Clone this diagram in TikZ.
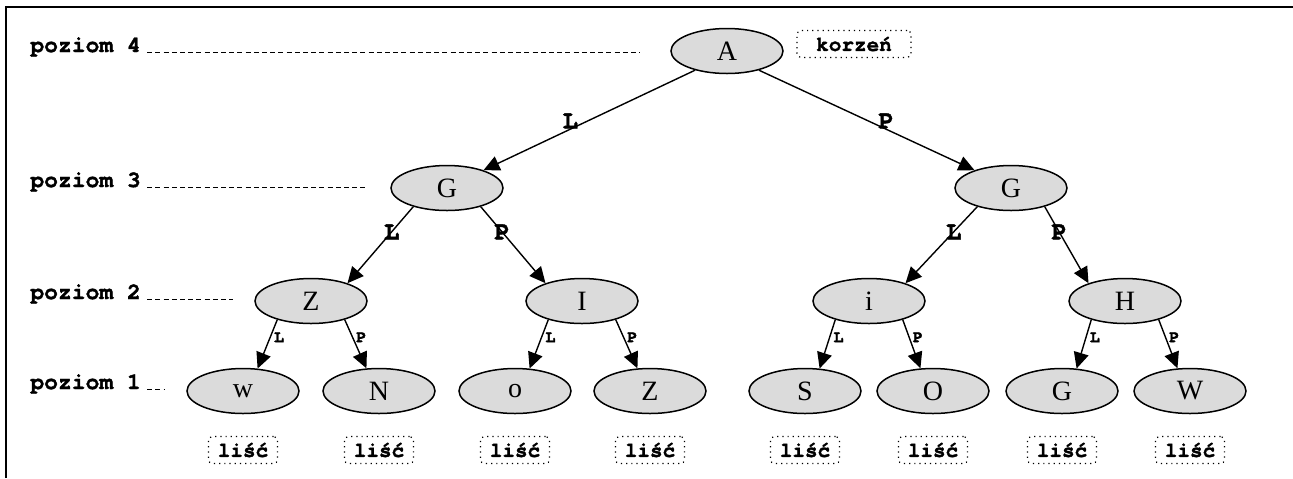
\documentclass[tikz,border=0pt]{standalone}
\usepackage{fontspec}
\setmainfont{Liberation Serif}
\setmonofont[BoldFeatures={FakeBold=1.6}]{TeX Gyre Cursor}
\usepackage{tikz}
\usetikzlibrary{arrows.meta,shapes.geometric}

\begin{document}
\begin{tikzpicture}[
  x=0.5pt, y=-0.5pt,
  >={Triangle[length=8pt, width=7.5pt]},
  vert/.style={ellipse, draw, line width=0.75pt, fill=black!14, minimum width=56pt,
    minimum height=22.5pt, inner sep=0pt, font=\fontsize{14}{16}\selectfont},
  edge/.style={->, line width=0.7pt},
  tag/.style={draw, dotted, line width=0.6pt, rounded corners=2pt, inner sep=0pt,
    minimum height=13.5pt, font=\fontsize{10.5}{12}\selectfont\ttfamily\bfseries},
  lvl/.style={anchor=base west, inner sep=0pt, font=\fontsize{11.5}{13}\selectfont\ttfamily\bfseries},
  lvlline/.style={dashed, dash pattern=on 2.5pt off 1.6pt, line width=0.5pt},
  big/.style={inner sep=0pt, font=\fontsize{13}{15}\selectfont\ttfamily\bfseries},
  small/.style={inner sep=1.5pt, font=\fontsize{8.5}{10}\selectfont\ttfamily\bfseries}
]
\useasboundingbox (0,0) rectangle (1293,478);
\draw[line width=1.2pt] (6,478) -- (6,7) -- (1293,7);

% levels
\node[lvl] (p4) at (30,52) {poziom 4};
\node[lvl] (p3) at (30,187) {poziom 3};
\node[lvl] (p2) at (30,299) {poziom 2};
\node[lvl] (p1) at (30,389) {poziom 1};
\draw[lvlline] ([xshift=3pt]p4.base east) -- (640,52);
\draw[lvlline] ([xshift=3pt]p3.base east) -- (368,187);
\draw[lvlline] ([xshift=3pt]p2.base east) -- (233,299);
\draw[lvlline] ([xshift=3pt]p1.base east) -- (165,389);

% tree
\node[vert] (A) at (727,51) {A};
\node[vert] (G1) at (447,188) {G};
\node[vert] (G2) at (1011,188) {G};
\node[vert] (Z1) at (311,301) {Z};
\node[vert] (I) at (582,301) {I};
\node[vert] (i) at (869,301) {i};
\node[vert] (H) at (1125,301) {H};
\node[vert] (w) at (243,391) {w};
\node[vert] (N) at (379,391) {N};
\node[vert] (o) at (515,391) {o};
\node[vert] (Z2) at (650,391) {Z};
\node[vert] (S) at (805,391) {S};
\node[vert] (O) at (933,391) {O};
\node[vert] (G3) at (1062,391) {G};
\node[vert] (W) at (1190,391) {W};

\node[tag, minimum width=57pt] (root) at (854,44) {korzeń};
\foreach \n in {w,N,o,Z2,S,O,G3,W}
  \node[tag, minimum width=34.5pt] (leaf\n) at ([yshift=-29.5pt]\n) {liść};

\draw[edge] (A.211) -- node[big, anchor=south, pos=0.59] {L} (G1.26);
\draw[edge] (A.329) -- node[big, anchor=south, pos=0.59] {P} (G2.154);

\draw[edge] (G1.209) -- node[big, pos=0.33] {L} (Z1.26);
\draw[edge] (G1.331) -- node[big, pos=0.33] {P} (I.154);
\draw[edge] (G2.209) -- node[big, pos=0.33] {L} (i.26);
\draw[edge] (G2.331) -- node[big, pos=0.33] {P} (H.154);

\draw[edge] (Z1.209) -- node[small, right, pos=0.36] {L} (w.57);
\draw[edge] (Z1.331) -- node[small, right, pos=0.36] {P} (N.119);
\draw[edge] (I.209) -- node[small, right, pos=0.36] {L} (o.57);
\draw[edge] (I.331) -- node[small, right, pos=0.36] {P} (Z2.119);
\draw[edge] (i.209) -- node[small, right, pos=0.36] {L} (S.57);
\draw[edge] (i.331) -- node[small, right, pos=0.36] {P} (O.119);
\draw[edge] (H.209) -- node[small, right, pos=0.36] {L} (G3.57);
\draw[edge] (H.331) -- node[small, right, pos=0.36] {P} (W.119);
\end{tikzpicture}
\end{document}
